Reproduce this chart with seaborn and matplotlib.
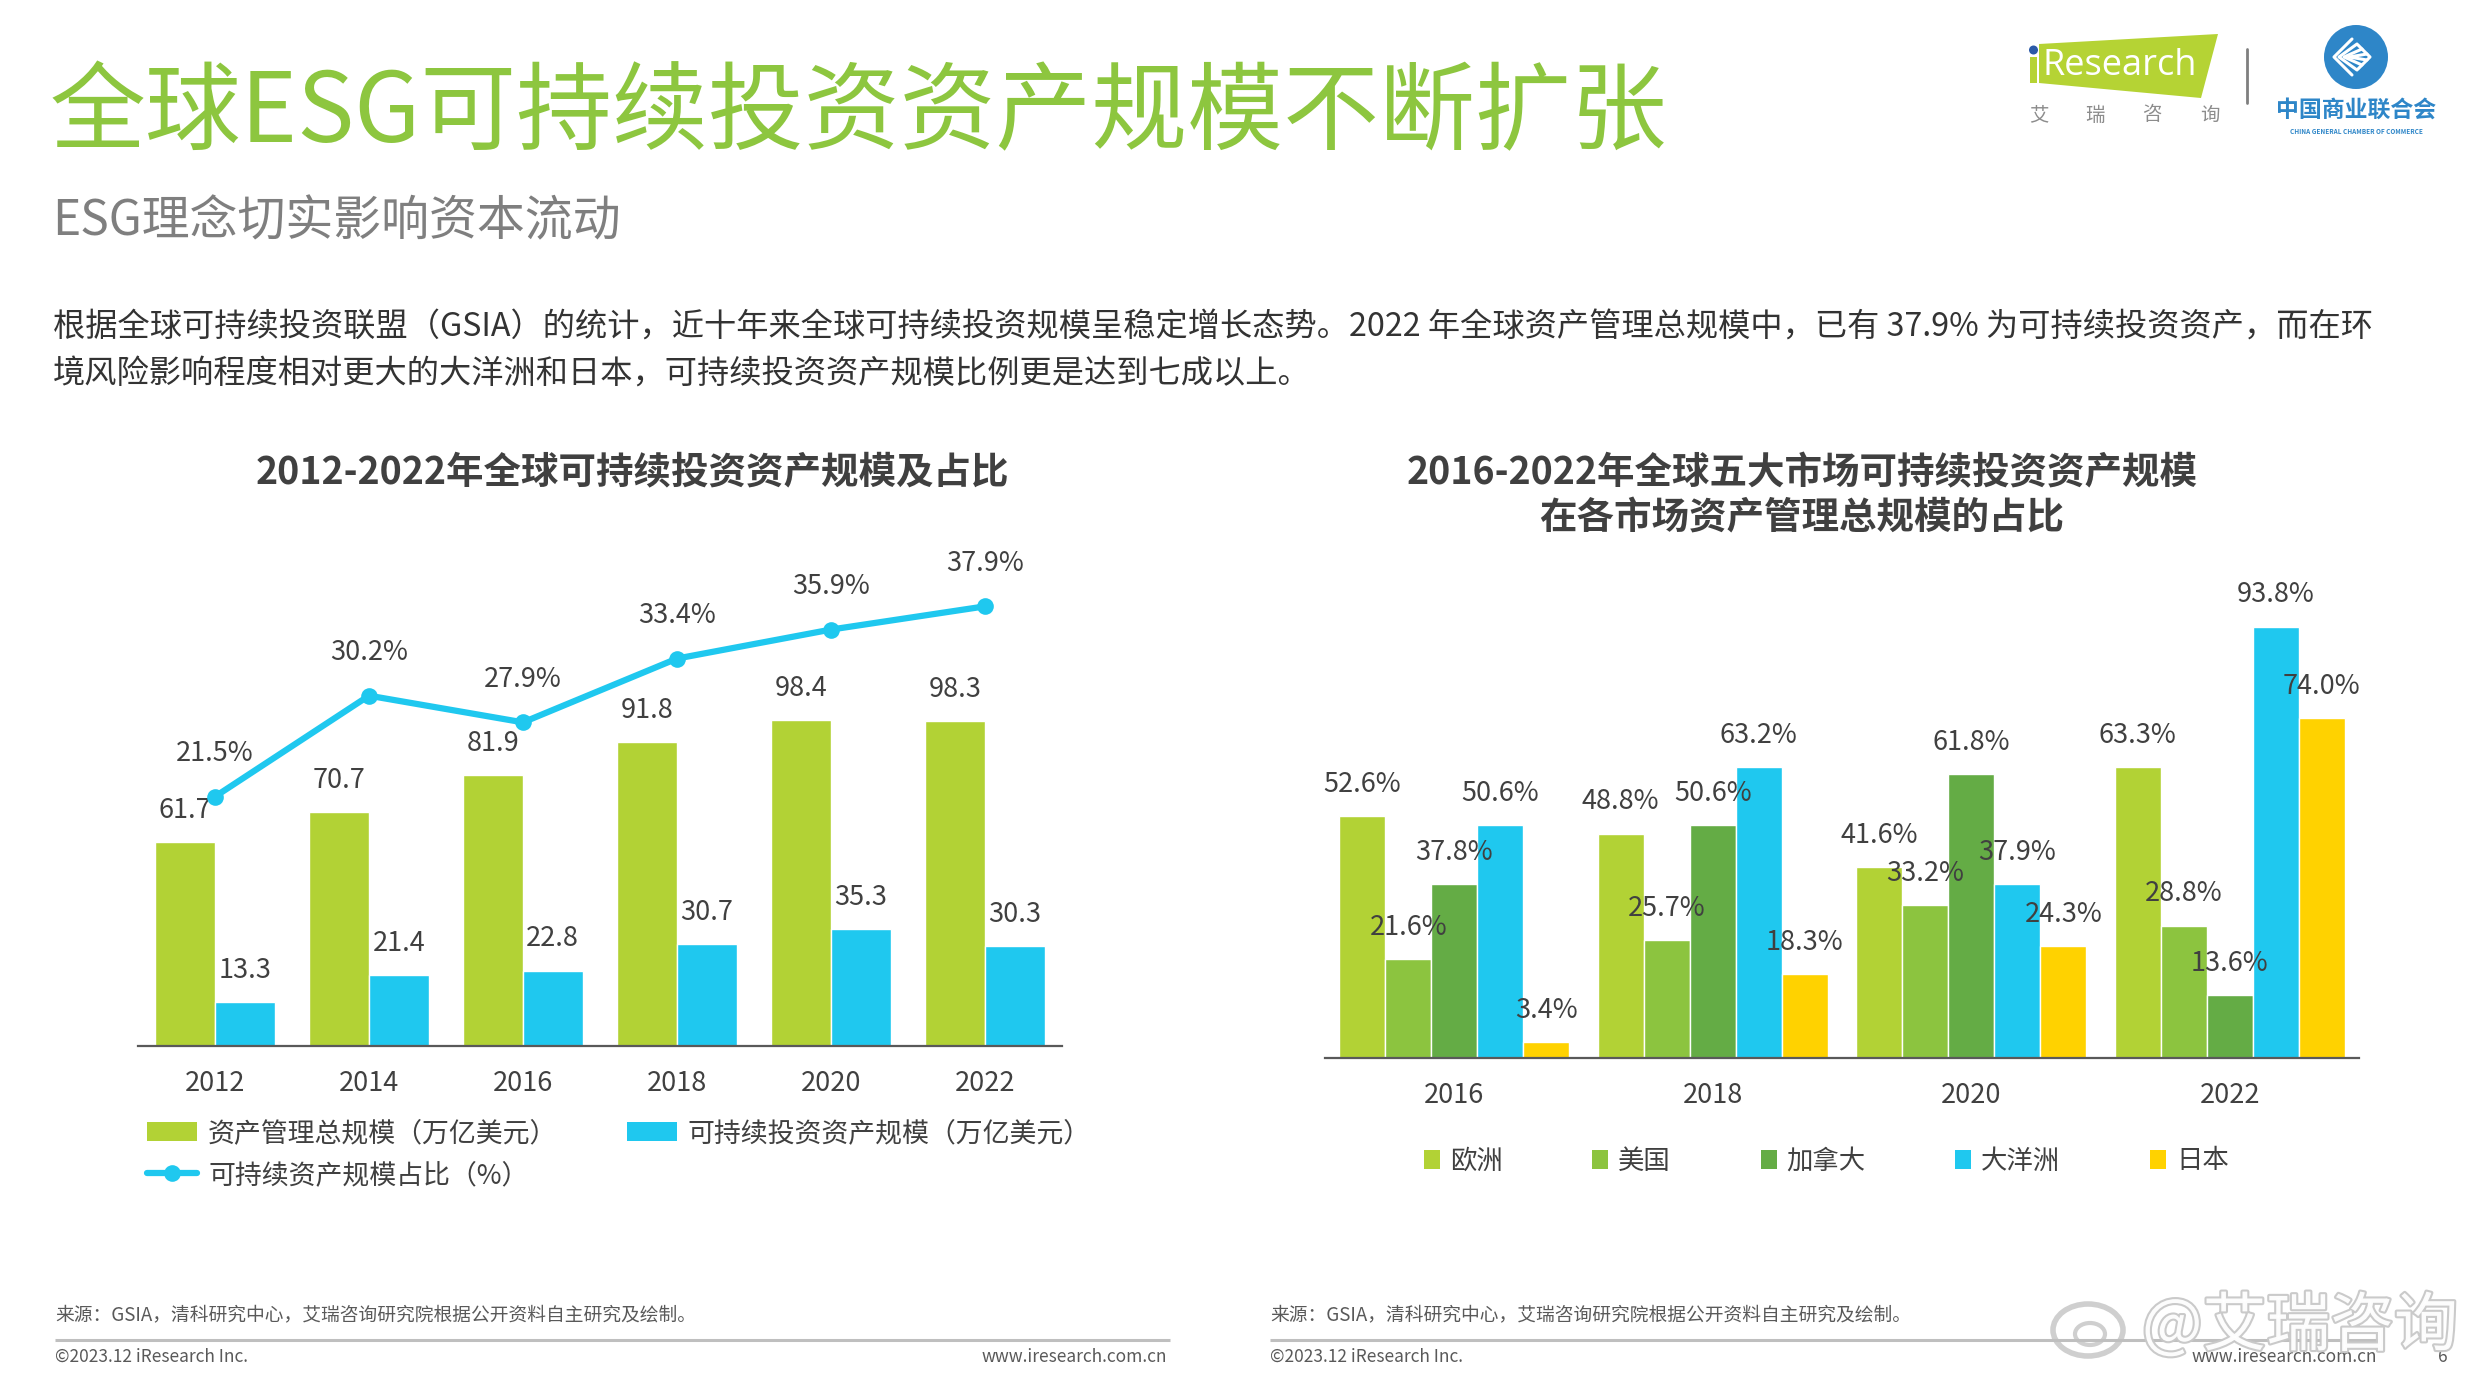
import numpy as np
import pandas as pd
import matplotlib
matplotlib.use('Agg')
import matplotlib.pyplot as plt
import seaborn as sns
from matplotlib.patches import Patch, Polygon, Rectangle, Circle, Ellipse
from matplotlib.lines import Line2D
import matplotlib.patheffects as pe

# ---------------- data ----------------
years_left = ['2012', '2014', '2016', '2018', '2020', '2022']
aum_total = [61.7, 70.7, 81.9, 91.8, 98.4, 98.3]
sustainable = [13.3, 21.4, 22.8, 30.7, 35.3, 30.3]
share_pct = [21.5, 30.2, 27.9, 33.4, 35.9, 37.9]
series_left = ['资产管理总规模（万亿美元）', '可持续投资资产规模（万亿美元）']
line_label = '可持续资产规模占比（%）'

years_right = ['2016', '2018', '2020', '2022']
markets = ['欧洲', '美国', '加拿大', '大洋洲', '日本']
europe = [52.6, 48.8, 41.6, 63.3]
usa = [21.6, 25.7, 33.2, 28.8]
canada = [37.8, 50.6, 61.8, 13.6]
oceania = [50.6, 63.2, 37.9, 93.8]
japan = [3.4, 18.3, 24.3, 74.0]

title = '全球ESG可持续投资资产规模不断扩张'
subtitle = 'ESG理念切实影响资本流动'
body1 = '根据全球可持续投资联盟（GSIA）的统计，近十年来全球可持续投资规模呈稳定增长态势。2022 年全球资产管理总规模中，已有 37.9% 为可持续投资资产，而在环'
body2 = '境风险影响程度相对更大的大洋洲和日本，可持续投资资产规模比例更是达到七成以上。'
left_title = '2012-2022年全球可持续投资资产规模及占比'
right_title = '2016-2022年全球五大市场可持续投资资产规模\n在各市场资产管理总规模的占比'
source = '来源：GSIA，清科研究中心，艾瑞咨询研究院根据公开资料自主研究及绘制。'

# ---------------- style ----------------
GREEN = '#B2D235'
BLUE = '#1FC8EF'
right_colors = ['#B2D235', '#8CC43F', '#64AC45', '#1FC8EF', '#FFD200']
TXT = '#404040'

sns.set_theme(style='white')
plt.rcParams['font.family'] = ['Noto Sans CJK SC', 'DejaVu Sans']
plt.rcParams['axes.unicode_minus'] = False

W, H = 2479, 1383
fig = plt.figure(figsize=(W / 100, H / 100), dpi=100)
fig.patch.set_facecolor('white')

def fx(x):
    return x / W

def fy(y):
    return 1 - y / H

# overlay in pixel coords for decorations
ov = fig.add_axes([0, 0, 1, 1])
ov.set_xlim(0, W)
ov.set_ylim(H, 0)
ov.axis('off')

ov.text(50, 114, title, fontsize=69, color='#8DC63F', va='center', ha='left')
ov.text(52, 222, subtitle, fontsize=34.5, color='#7F7F7F', va='center', ha='left')
ov.text(53, 328, body1, fontsize=23.2, color='#333333', va='center', ha='left')
ov.text(53, 374, body2, fontsize=23.2, color='#333333', va='center', ha='left')
ov.text(632, 472, left_title, fontsize=27, fontweight='bold', color=TXT, va='center', ha='center')
ov.text(1802, 495, right_title, fontsize=27, fontweight='bold', color=TXT, va='center', ha='center',
        linespacing=1.2, multialignment='center')

# footer
for x0, x1 in [(55, 1170), (1270, 2380)]:
    ov.plot([x0, x1], [1340, 1340], color='#BFBFBF', lw=2.2, solid_capstyle='butt')
    ov.text(x0, 1315, source, fontsize=13.5, color='#595959', va='center', ha='left')
    ov.text(x0, 1357, '©2023.12 iResearch Inc.', fontsize=12.5, color='#595959', va='center', ha='left')
    ov.text(x1 - 3, 1357, 'www.iresearch.com.cn', fontsize=12.5, color='#595959', va='center', ha='right')
ov.text(2443, 1357, '6', fontsize=12.5, color='#595959', va='center', ha='center')

# watermark
ov.text(2142, 1327, '@艾瑞咨询', fontsize=46, color='white', va='center', ha='left', alpha=0.95,
        path_effects=[pe.withStroke(linewidth=3, foreground='#C8C8C8')])
ov.add_patch(Ellipse((2088, 1330), 70, 52, fill=False, ec='#CFCFCF', lw=4))
ov.add_patch(Ellipse((2090, 1334), 30, 22, fill=False, ec='#CFCFCF', lw=3))

# iResearch logo
ov.add_patch(Polygon([(2039, 44), (2218, 34), (2201, 98), (2039, 83)], closed=True, fc='#B5D334', ec='none'))
ov.add_patch(Rectangle((2030, 57), 7, 26, fc='#B5D334', ec='none'))
ov.add_patch(Circle((2033.5, 50), 4.5, fc='#2B5AA8', ec='none'))
ov.text(2043, 66, 'Research', fontsize=26, color='white', va='center', ha='left', family='Open Sans')
for ch, xx in zip('艾瑞咨询', [2039, 2095, 2152, 2210]):
    ov.text(xx, 115, ch, fontsize=14, color='#8C8C8C', va='center', ha='center')
ov.plot([2247, 2247], [49, 103], color='#7F7F7F', lw=2)

# chamber logo
cx, cy = 2356, 57
ov.add_patch(Circle((cx, cy), 32, fc='#2E86C8', ec='none'))
for k in range(4):
    d = 18 - k * 5
    ov.plot([cx - 4 + k * 5, cx - 22 + k * 5, cx - 4 + k * 5], [cy - d, cy, cy + d],
            color='white', lw=2.2)
ov.plot([cx + 2, cx + 14, cx + 2], [cy - 12, cy, cy + 12], color='white', lw=2.2)
ov.text(cx, 110, '中国商业联合会', fontsize=16.5, fontweight='bold', color='#2E86C8', va='center', ha='center')
ov.text(cx, 132, 'CHINA GENERAL CHAMBER OF COMMERCE', fontsize=4.6, color='#2E86C8', va='center', ha='center',
        fontweight='bold')

# ---------------- left chart ----------------
L0, L1, LB, LT = 138, 1062, 1046, 560
axL = fig.add_axes([fx(L0), fy(LB), (L1 - L0) / W, (LB - LT) / H])
axL.patch.set_alpha(0)
df_left = pd.DataFrame({
    'year': years_left * 2,
    'series': [series_left[0]] * len(years_left) + [series_left[1]] * len(years_left),
    'value': aum_total + sustainable,
})
sns.barplot(data=df_left, x='year', y='value', hue='series', hue_order=series_left,
            palette=[GREEN, BLUE], width=0.773, saturation=1, errorbar=None,
            ax=axL, legend=False, gap=0)
axL.set_ylim(0, (LB - LT) / 3.31)
axL.set_xlim(-0.5, 5.5)
for cont in axL.containers:
    axL.bar_label(cont, fmt='{:.1f}', padding=13, fontsize=19.5, color=TXT)
for s in ['top', 'right', 'left']:
    axL.spines[s].set_visible(False)
axL.spines['bottom'].set_color('#595959')
axL.spines['bottom'].set_linewidth(1.6)
axL.set_yticks([])
axL.set_xlabel('')
axL.set_ylabel('')
axL.tick_params(axis='x', length=0, pad=17, labelsize=19.5, labelcolor=TXT)

axL2 = axL.twinx()
sns.lineplot(x=np.arange(len(years_left)), y=share_pct, ax=axL2, color=BLUE, linewidth=4.5,
             marker='o', markersize=12, markeredgewidth=0, legend=False)
axL2.set_ylim(0, (LB - LT) / 11.6)
axL.set_xlim(-0.5, 5.5)
for s in ['top', 'right', 'left', 'bottom']:
    axL2.spines[s].set_visible(False)
axL2.set_yticks([])
axL2.set_ylabel('')
for i, v in enumerate(share_pct):
    axL2.annotate(f'{v:.1f}%', (i, v), xytext=(0, 31), textcoords='offset points',
                  ha='center', va='center', fontsize=19.5, color=TXT)

handlesL = [Patch(fc=GREEN, ec='none'),
            Line2D([], [], color=BLUE, lw=4.5, marker='o', markersize=12, markeredgewidth=0),
            Patch(fc=BLUE, ec='none')]
labelsL = [series_left[0], line_label, series_left[1]]
fig.legend(handlesL, labelsL, ncol=2, loc='upper left', bbox_to_anchor=(fx(147), fy(1120)),
           frameon=False, fontsize=19.4, handlelength=1.85, handleheight=0.7, handletextpad=0.42,
           columnspacing=2.57, labelspacing=0.55, borderpad=0, borderaxespad=0, labelcolor=TXT)

# ---------------- right chart ----------------
R0, R1, RB, RT = 1325, 2359, 1058, 560
axR = fig.add_axes([fx(R0), fy(RB), (R1 - R0) / W, (RB - RT) / H])
axR.patch.set_alpha(0)
right_values = [europe, usa, canada, oceania, japan]
df_right = pd.DataFrame({
    'year': years_right * len(markets),
    'market': [m for m in markets for _ in years_right],
    'value': [v for vals in right_values for v in vals],
})
sns.barplot(data=df_right, x='year', y='value', hue='market', hue_order=markets,
            palette=right_colors, width=0.891, saturation=1, errorbar=None,
            ax=axR, legend=False, gap=0)
axR.set_ylim(0, (RB - RT) / 4.6)
axR.set_xlim(-0.5, 3.5)
for cont in axR.containers:
    axR.bar_label(cont, fmt='{:.1f}%', padding=13, fontsize=19.5, color=TXT)
for s in ['top', 'right', 'left']:
    axR.spines[s].set_visible(False)
axR.spines['bottom'].set_color('#595959')
axR.spines['bottom'].set_linewidth(1.6)
axR.set_yticks([])
axR.set_xlabel('')
axR.set_ylabel('')
axR.tick_params(axis='x', length=0, pad=17, labelsize=19.5, labelcolor=TXT)

handlesR = [Patch(fc=c, ec='none') for c in right_colors]
fig.legend(handlesR, markets, ncol=5, loc='center left', bbox_to_anchor=(fx(1424), fy(1161)),
           frameon=False, fontsize=19, handlelength=0.6, handleheight=0.72, handletextpad=0.38,
           columnspacing=3.4, borderpad=0, borderaxespad=0, labelcolor=TXT)

fig.savefig('out.png', dpi=100, facecolor='white')
